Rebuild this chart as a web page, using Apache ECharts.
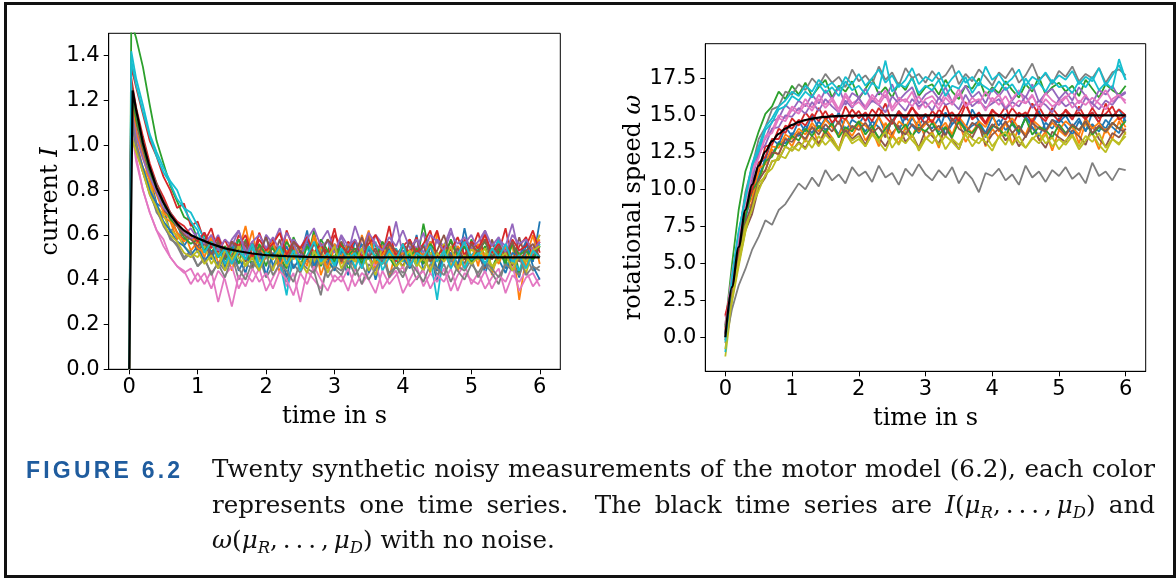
<!DOCTYPE html>
<html>
<head>
<meta charset="utf-8">
<script src="https://cdn.jsdelivr.net/npm/echarts@6/dist/echarts.min.js"></script>
<style>
html,body{margin:0;padding:0;background:#fff;}
#wrap{position:relative;width:1176px;height:581px;overflow:hidden;background:#fff;}
#chart{position:absolute;left:0;top:0;width:1176px;height:581px;}
#frame{position:absolute;left:4px;top:2px;width:1172px;height:576px;box-sizing:border-box;border:3px solid #111;pointer-events:none;}
#lab{position:absolute;left:26px;top:452px;font-family:"Liberation Sans",Arial,sans-serif;font-weight:bold;font-size:23px;line-height:37px;letter-spacing:3.2px;color:#1f5c9e;white-space:nowrap;}
#txt{position:absolute;left:212px;top:451px;width:943px;font-family:"DejaVu Serif",serif;font-size:24.6px;line-height:35.5px;color:#111;}
#txt .j{text-align:justify;text-align-last:justify;}
#txt sub{font-size:16.5px;line-height:0;vertical-align:-5px;}
</style>
</head>
<body>
<div id="wrap">
<div id="chart"></div>
<div id="frame"></div>
<div id="lab">FIGURE 6.2</div>
<div id="txt">
<div class="j">Twenty synthetic noisy measurements of the motor model (6.2), each color</div>
<div class="j">represents one time series.&nbsp; The black time series are <i>I</i>(<i>μ<sub>R</sub></i>,&thinsp;.&thinsp;.&thinsp;.&thinsp;,&thinsp;<i>μ<sub>D</sub></i>) and</div>
<div><i>ω</i>(<i>μ<sub>R</sub></i>,&thinsp;.&thinsp;.&thinsp;.&thinsp;,&thinsp;<i>μ<sub>D</sub></i>) with no noise.</div>
</div>
</div>
<script>
// ---------- tick labels ----------
const tickTime = [0, 1, 2, 3, 4, 5, 6];
const tickCurrent = [0, 0.2, 0.4, 0.6, 0.8, 1.0, 1.2, 1.4];
const tickSpeed = [0, 2.5, 5, 7.5, 10, 12.5, 15, 17.5];

// ---------- time samples ----------
const timeCurrent = [0,0.03,0.1,0.2,0.3,0.4,0.5,0.6,0.7,0.8,0.9,1.0,1.1,1.2,1.3,1.4,1.5,1.6,1.7,1.8,1.9,2.0,2.1,2.2,2.3,2.4,2.5,2.6,2.7,2.8,2.9,3.0,3.1,3.2,3.3,3.4,3.5,3.6,3.7,3.8,3.9,4.0,4.1,4.2,4.3,4.4,4.5,4.6,4.7,4.8,4.9,5.0,5.1,5.2,5.3,5.4,5.5,5.6,5.7,5.8,5.9,6.0];
const timeSpeed = [0,0.1,0.2,0.3,0.4,0.5,0.6,0.7,0.8,0.9,1.0,1.1,1.2,1.3,1.4,1.5,1.6,1.7,1.8,1.9,2.0,2.1,2.2,2.3,2.4,2.5,2.6,2.7,2.8,2.9,3.0,3.1,3.2,3.3,3.4,3.5,3.6,3.7,3.8,3.9,4.0,4.1,4.2,4.3,4.4,4.5,4.6,4.7,4.8,4.9,5.0,5.1,5.2,5.3,5.4,5.5,5.6,5.7,5.8,5.9,6.0];

// ---------- noise-free model (black) ----------
const timeCurrentModel = [0,0.05,0.1,0.2,0.3,0.4,0.5,0.6,0.7,0.8,0.9,1.0,1.2,1.4,1.6,1.8,2.0,2.3,2.6,3.0,6.0];
const currentModel = [0,1.245,1.16,1.01,0.9,0.81,0.745,0.69,0.65,0.62,0.6,0.585,0.56,0.54,0.527,0.517,0.51,0.505,0.502,0.5,0.5];
const timeSpeedModel = [0,0.1,0.2,0.3,0.4,0.5,0.6,0.7,0.8,0.9,1.0,1.1,1.2,1.3,1.4,1.5,1.6,1.7,1.8,1.9,2.0,2.5,3.0,6.0];
const speedModel = [0,3.4,6.1,8.6,10.3,11.6,12.55,13.25,13.75,14.1,14.35,14.55,14.68,14.78,14.85,14.9,14.93,14.95,14.97,14.98,14.99,15.0,15.0,15.0];

// ---------- noisy current measurements ----------
const cur01 = [0,1.18,1.06,0.95,0.86,0.74,0.72,0.61,0.66,0.55,0.6,0.52,0.58,0.49,0.56,0.45,0.57,0.5,0.43,0.55,0.48,0.6,0.46,0.53,0.41,0.55,0.5,0.62,0.44,0.52,0.47,0.56,0.5,0.42,0.58,0.47,0.54,0.4,0.51,0.57,0.45,0.53,0.48,0.6,0.44,0.52,0.39,0.55,0.5,0.46,0.63,0.49,0.54,0.43,0.51,0.58,0.45,0.5,0.41,0.56,0.48,0.66];
const cur02 = [0,1.15,1.02,0.9,0.85,0.72,0.68,0.66,0.58,0.62,0.53,0.57,0.5,0.6,0.47,0.53,0.44,0.56,0.51,0.62,0.45,0.5,0.55,0.43,0.58,0.49,0.53,0.46,0.6,0.42,0.51,0.56,0.47,0.54,0.44,0.6,0.5,0.45,0.57,0.41,0.53,0.49,0.58,0.46,0.52,0.43,0.61,0.48,0.55,0.44,0.5,0.57,0.46,0.62,0.42,0.53,0.49,0.56,0.31,0.5,0.6,0.47];
const cur03 = [0,1.55,1.48,1.35,1.18,1.02,0.92,0.82,0.75,0.68,0.66,0.58,0.6,0.52,0.57,0.49,0.55,0.47,0.58,0.5,0.54,0.46,0.56,0.5,0.45,0.59,0.52,0.48,0.62,0.46,0.53,0.5,0.57,0.44,0.52,0.49,0.6,0.47,0.54,0.5,0.45,0.56,0.51,0.47,0.65,0.5,0.44,0.55,0.49,0.53,0.46,0.58,0.5,0.55,0.45,0.52,0.48,0.57,0.43,0.53,0.49,0.55];
const cur04 = [0,1.35,1.26,1.14,1.02,0.95,0.86,0.8,0.72,0.74,0.64,0.66,0.57,0.63,0.52,0.58,0.5,0.6,0.55,0.49,0.61,0.53,0.58,0.47,0.62,0.54,0.5,0.59,0.46,0.56,0.52,0.63,0.49,0.57,0.53,0.46,0.6,0.55,0.51,0.64,0.48,0.56,0.52,0.59,0.47,0.55,0.62,0.5,0.54,0.46,0.58,0.53,0.61,0.49,0.56,0.52,0.63,0.47,0.55,0.59,0.5,0.57];
const cur05 = [0,1.2,1.07,0.96,0.88,0.8,0.75,0.7,0.66,0.6,0.63,0.58,0.61,0.55,0.6,0.52,0.58,0.62,0.53,0.57,0.5,0.6,0.56,0.63,0.51,0.58,0.54,0.6,0.49,0.57,0.62,0.53,0.59,0.52,0.64,0.55,0.5,0.6,0.56,0.53,0.66,0.51,0.57,0.54,0.61,0.49,0.58,0.55,0.63,0.52,0.56,0.6,0.53,0.62,0.5,0.58,0.55,0.65,0.51,0.57,0.54,0.6];
const cur06 = [0,1.22,1.1,0.98,0.87,0.8,0.71,0.68,0.61,0.58,0.6,0.53,0.56,0.5,0.58,0.47,0.54,0.51,0.57,0.45,0.55,0.52,0.49,0.58,0.46,0.53,0.5,0.56,0.43,0.55,0.51,0.48,0.57,0.5,0.54,0.45,0.59,0.52,0.48,0.55,0.5,0.46,0.53,0.58,0.49,0.55,0.44,0.52,0.57,0.5,0.47,0.56,0.51,0.45,0.58,0.5,0.54,0.46,0.59,0.49,0.53,0.5];
const cur07 = [0,1.12,0.95,0.8,0.7,0.62,0.58,0.5,0.46,0.44,0.38,0.43,0.38,0.44,0.3,0.42,0.46,0.36,0.43,0.39,0.45,0.35,0.41,0.47,0.37,0.43,0.3,0.44,0.4,0.36,0.46,0.39,0.42,0.35,0.45,0.38,0.43,0.48,0.36,0.41,0.44,0.34,0.4,0.46,0.37,0.43,0.39,0.45,0.35,0.42,0.47,0.38,0.43,0.36,0.41,0.45,0.34,0.42,0.39,0.44,0.37,0.41];
const cur08 = [0,1.1,0.98,0.88,0.8,0.7,0.66,0.58,0.56,0.5,0.53,0.46,0.5,0.42,0.48,0.44,0.51,0.4,0.47,0.45,0.5,0.41,0.46,0.49,0.39,0.47,0.43,0.5,0.44,0.33,0.48,0.45,0.42,0.49,0.46,0.38,0.47,0.44,0.51,0.41,0.46,0.43,0.48,0.4,0.45,0.5,0.42,0.47,0.39,0.46,0.44,0.49,0.41,0.47,0.43,0.38,0.48,0.45,0.42,0.5,0.44,0.46];
const cur09 = [0,1.06,0.98,0.9,0.82,0.73,0.69,0.62,0.6,0.55,0.52,0.5,0.55,0.47,0.52,0.44,0.53,0.5,0.46,0.56,0.48,0.51,0.44,0.53,0.49,0.57,0.45,0.51,0.48,0.55,0.43,0.5,0.52,0.47,0.54,0.46,0.5,0.42,0.55,0.49,0.51,0.45,0.53,0.48,0.44,0.52,0.5,0.56,0.46,0.51,0.45,0.54,0.49,0.52,0.44,0.5,0.55,0.47,0.51,0.43,0.53,0.6];
const cur10 = [0,1.42,1.3,1.18,1.05,0.97,0.9,0.84,0.8,0.72,0.7,0.64,0.58,0.51,0.55,0.47,0.53,0.58,0.49,0.54,0.45,0.52,0.56,0.48,0.33,0.53,0.49,0.55,0.46,0.52,0.58,0.47,0.51,0.55,0.45,0.53,0.49,0.57,0.44,0.5,0.54,0.48,0.52,0.46,0.56,0.5,0.31,0.53,0.48,0.55,0.45,0.51,0.54,0.47,0.52,0.58,0.46,0.5,0.44,0.53,0.49,0.56];
const cur11 = [0,1.13,1.0,0.9,0.8,0.74,0.66,0.62,0.57,0.55,0.51,0.55,0.48,0.53,0.45,0.51,0.56,0.44,0.5,0.47,0.54,0.42,0.52,0.48,0.55,0.45,0.5,0.58,0.46,0.51,0.49,0.44,0.53,0.47,0.5,0.56,0.43,0.51,0.48,0.54,0.46,0.5,0.45,0.53,0.49,0.57,0.44,0.5,0.52,0.47,0.55,0.48,0.51,0.46,0.54,0.49,0.43,0.52,0.5,0.57,0.46,0.4];
const cur12 = [0,1.2,1.06,0.95,0.84,0.78,0.7,0.67,0.61,0.57,0.6,0.54,0.52,0.58,0.5,0.55,0.47,0.53,0.64,0.49,0.54,0.51,0.57,0.46,0.53,0.5,0.55,0.48,0.6,0.52,0.45,0.54,0.5,0.56,0.48,0.53,0.62,0.47,0.51,0.55,0.49,0.52,0.46,0.54,0.5,0.57,0.48,0.53,0.45,0.55,0.51,0.49,0.56,0.5,0.53,0.47,0.55,0.49,0.52,0.46,0.54,0.58];
const cur13 = [0,1.25,1.12,1.0,0.88,0.79,0.74,0.67,0.64,0.59,0.56,0.58,0.53,0.57,0.5,0.55,0.49,0.58,0.52,0.47,0.56,0.51,0.54,0.49,0.57,0.52,0.46,0.55,0.5,0.58,0.53,0.48,0.56,0.51,0.54,0.47,0.55,0.5,0.57,0.52,0.49,0.55,0.5,0.54,0.47,0.56,0.52,0.49,0.58,0.51,0.55,0.48,0.53,0.57,0.5,0.54,0.47,0.56,0.51,0.53,0.49,0.55];
const cur14 = [0,1.3,1.17,1.04,0.92,0.83,0.77,0.7,0.66,0.64,0.6,0.57,0.61,0.54,0.59,0.52,0.57,0.55,0.6,0.5,0.58,0.53,0.56,0.61,0.51,0.57,0.54,0.59,0.52,0.56,0.49,0.6,0.55,0.52,0.58,0.5,0.56,0.6,0.53,0.57,0.51,0.55,0.58,0.52,0.56,0.62,0.5,0.55,0.53,0.59,0.51,0.57,0.54,0.6,0.52,0.56,0.5,0.58,0.53,0.55,0.62,0.52];
const cur15 = [0,1.16,1.04,0.94,0.86,0.79,0.72,0.69,0.64,0.62,0.58,0.61,0.56,0.6,0.53,0.58,0.55,0.62,0.51,0.57,0.6,0.54,0.59,0.53,0.61,0.56,0.5,0.58,0.63,0.55,0.57,0.52,0.6,0.55,0.58,0.52,0.61,0.56,0.53,0.59,0.55,0.62,0.54,0.58,0.52,0.6,0.57,0.53,0.61,0.56,0.59,0.54,0.57,0.62,0.55,0.59,0.52,0.6,0.56,0.58,0.53,0.57];
const cur16 = [0,1.28,1.15,1.02,0.9,0.83,0.75,0.7,0.64,0.6,0.58,0.55,0.58,0.51,0.56,0.5,0.57,0.53,0.48,0.56,0.52,0.59,0.5,0.55,0.47,0.57,0.53,0.49,0.56,0.51,0.58,0.54,0.48,0.55,0.52,0.59,0.5,0.54,0.47,0.56,0.53,0.5,0.57,0.51,0.55,0.48,0.53,0.6,0.5,0.54,0.49,0.56,0.52,0.58,0.49,0.55,0.51,0.57,0.48,0.53,0.56,0.5];
const cur17 = [0,1.08,0.93,0.8,0.7,0.62,0.55,0.5,0.46,0.43,0.45,0.39,0.43,0.36,0.44,0.4,0.28,0.42,0.37,0.45,0.39,0.43,0.36,0.44,0.4,0.33,0.43,0.38,0.46,0.4,0.35,0.42,0.39,0.45,0.37,0.43,0.4,0.34,0.44,0.38,0.42,0.46,0.37,0.41,0.44,0.36,0.42,0.39,0.45,0.35,0.43,0.4,0.38,0.44,0.36,0.42,0.39,0.46,0.35,0.41,0.43,0.37];
const cur18 = [0,1.14,1.0,0.88,0.78,0.71,0.64,0.59,0.55,0.49,0.52,0.46,0.49,0.43,0.47,0.41,0.5,0.45,0.4,0.48,0.44,0.51,0.42,0.47,0.44,0.39,0.48,0.45,0.43,0.5,0.41,0.46,0.44,0.49,0.42,0.47,0.4,0.45,0.5,0.43,0.46,0.41,0.48,0.44,0.39,0.47,0.45,0.42,0.49,0.44,0.4,0.47,0.43,0.48,0.45,0.41,0.47,0.44,0.5,0.42,0.46,0.44];
const cur19 = [0,1.04,0.97,0.88,0.78,0.72,0.65,0.6,0.57,0.52,0.5,0.53,0.47,0.51,0.45,0.53,0.49,0.55,0.46,0.5,0.44,0.52,0.49,0.54,0.46,0.51,0.48,0.43,0.53,0.47,0.5,0.55,0.45,0.51,0.48,0.54,0.44,0.5,0.47,0.52,0.46,0.49,0.53,0.46,0.5,0.44,0.52,0.48,0.55,0.45,0.51,0.47,0.5,0.54,0.46,0.49,0.52,0.44,0.51,0.48,0.53,0.55];
const cur20 = [0,1.38,1.27,1.15,1.04,0.95,0.88,0.83,0.76,0.72,0.66,0.62,0.52,0.57,0.5,0.54,0.47,0.53,0.49,0.56,0.46,0.52,0.5,0.55,0.47,0.53,0.44,0.51,0.57,0.48,0.52,0.46,0.54,0.49,0.52,0.45,0.55,0.5,0.47,0.53,0.49,0.56,0.46,0.52,0.5,0.55,0.48,0.53,0.45,0.51,0.57,0.49,0.52,0.47,0.54,0.5,0.56,0.48,0.51,0.45,0.53,0.5];

// ---------- noisy rotational speed measurements ----------
const spd01 = [0.3,3.6,5.5,8.9,9.7,11.8,12.0,13.4,13.0,14.2,13.6,14.6,13.9,15.0,14.1,14.8,14.3,15.2,13.9,14.7,14.4,15.1,14.2,14.9,13.8,14.6,15.3,14.0,14.8,14.3,15.0,14.5,13.9,15.2,14.4,14.8,14.1,15.4,14.6,13.8,14.9,14.3,15.1,14.6,13.7,14.9,14.4,15.3,14.0,14.7,14.5,15.0,14.2,14.8,13.9,15.2,14.5,14.1,14.9,15.4,14.6];
const spd02 = [0.6,3.5,5.2,8.4,9.1,11.2,11.2,12.7,12.3,13.5,12.9,13.9,13.2,14.3,13.0,14.1,13.5,12.7,14.2,13.6,14.4,13.3,14.0,12.9,14.5,13.7,13.1,14.2,13.5,14.7,13.4,13.9,12.8,14.3,13.6,14.6,13.2,13.9,14.4,12.9,14.1,13.5,14.6,13.0,14.2,13.7,14.8,13.3,13.9,12.6,14.0,13.6,14.3,13.1,14.5,13.8,12.7,14.1,13.4,14.6,13.7];
const spd03 = [0.8,4.9,8.6,11.2,12.5,13.9,15.1,15.6,16.6,16.1,17.0,16.4,17.2,16.3,16.9,17.4,16.2,17.0,16.6,17.3,16.1,16.8,17.5,16.4,16.9,16.2,17.2,16.7,17.6,16.3,16.9,17.1,16.4,17.4,16.6,16.1,17.0,16.8,17.5,16.3,16.9,16.5,17.3,16.7,16.2,17.1,16.6,17.6,16.4,16.9,17.2,16.6,17.0,16.3,17.4,16.8,16.2,17.1,16.7,16.4,17.0];
const spd04 = [1.4,3.0,6.4,8.1,10.6,11.2,12.9,13.0,14.1,13.8,14.8,14.3,15.2,14.6,15.5,14.7,15.1,14.4,15.6,14.8,15.3,14.6,15.4,14.9,15.8,14.5,15.2,14.7,15.5,15.0,14.4,15.3,14.8,15.7,14.6,15.1,15.9,14.7,15.2,14.5,15.4,14.9,15.6,14.3,15.2,14.8,15.8,15.0,14.6,15.5,14.9,15.3,14.7,15.6,14.8,15.2,14.5,15.8,14.9,15.4,15.0];
const spd05 = [0.2,3.9,6.4,9.6,11.0,12.9,13.4,14.6,14.8,15.7,15.3,16.0,15.6,16.4,15.8,16.7,16.1,16.9,15.7,16.5,16.2,16.8,15.9,16.6,16.2,17.1,16.0,16.5,16.9,15.8,16.4,16.7,16.1,16.9,15.9,16.4,17.0,16.2,16.6,15.8,16.8,16.3,16.9,16.0,16.6,16.2,17.1,15.9,16.5,16.8,16.1,16.6,16.0,16.9,16.3,15.8,16.7,16.4,17.0,16.2,16.5];
const spd06 = [-0.2,2.6,5.0,7.2,8.3,10.1,10.8,11.9,12.0,12.9,12.6,13.2,12.8,13.6,13.1,13.9,13.3,12.7,14.0,13.4,13.8,13.0,14.1,13.5,12.9,13.8,14.3,13.2,13.7,12.8,14.0,13.6,13.1,14.2,13.4,12.7,13.9,13.5,14.4,13.0,13.7,14.1,13.3,13.8,12.9,13.6,14.2,13.4,12.8,13.9,13.5,13.2,14.0,13.6,13.0,14.3,13.4,12.9,13.8,13.5,14.1];
const spd07 = [0.9,4.3,7.0,9.4,11.3,12.3,13.6,14.0,15.0,14.8,15.6,15.3,16.1,15.5,16.4,15.7,16.2,15.4,16.5,15.8,16.1,15.6,16.4,15.9,16.7,15.5,16.2,15.9,16.6,15.4,16.1,16.3,15.7,16.5,15.9,16.8,15.6,16.2,15.8,16.6,15.9,16.4,15.5,16.1,16.7,15.8,16.3,15.6,16.5,16.0,15.7,16.2,16.6,15.8,16.4,15.5,16.1,16.7,15.9,16.3,16.0];
const spd08 = [0.4,3.8,6.8,9.8,11.5,13.4,14.2,15.4,15.6,16.6,16.4,17.1,16.7,17.5,17.0,17.8,17.2,17.6,16.9,18.1,17.3,17.7,17.1,18.3,17.4,17.9,17.0,18.2,17.5,17.8,17.2,18.0,17.4,17.7,18.4,17.1,17.8,17.3,18.1,17.6,17.0,17.9,17.5,18.2,17.2,17.7,18.5,17.4,17.8,17.1,18.0,17.6,18.3,17.3,17.8,17.5,18.2,17.2,17.9,18.1,17.7];
const spd09 = [-1.3,2.4,4.8,7.1,8.9,9.9,11.0,11.4,12.3,12.1,12.9,12.6,13.4,12.8,13.6,13.0,13.5,12.7,13.8,13.1,13.4,12.9,13.7,13.2,12.6,13.6,13.0,13.9,13.3,12.8,13.5,13.1,13.8,12.7,13.4,13.0,13.7,12.9,13.5,13.2,12.6,13.6,13.0,13.9,13.2,12.8,13.5,13.1,13.7,12.9,13.4,13.0,13.6,12.7,13.3,13.8,13.0,12.5,13.4,13.1,13.6];
const spd10 = [-1.0,3.9,7.0,9.5,11.7,12.9,14.2,14.8,15.6,16.0,16.6,16.3,17.0,16.6,17.4,16.9,17.2,16.7,17.6,17.1,17.8,17.0,17.5,18.1,17.2,17.7,16.9,17.4,18.2,17.1,17.6,17.3,17.9,16.9,17.5,18.0,17.2,17.6,17.0,18.3,17.4,17.8,17.1,17.5,18.1,17.0,17.6,17.3,17.9,17.2,17.7,17.4,18.0,17.1,17.6,17.3,18.2,17.0,17.7,18.4,17.4];
const spd11 = [0.0,3.0,6.1,7.9,10.0,10.8,12.1,12.3,13.2,13.1,13.8,13.6,14.3,13.8,14.6,14.0,14.4,13.7,14.8,14.1,14.5,13.9,14.6,14.2,13.6,14.7,14.0,14.9,14.3,13.8,14.5,14.1,14.8,13.7,14.4,14.9,13.9,14.3,14.6,13.5,14.2,14.7,14.0,14.4,13.8,14.9,14.2,13.6,14.5,14.1,14.8,14.3,13.7,14.6,14.0,14.4,13.9,14.7,14.2,13.8,15.0];
const spd12 = [0.5,3.4,5.6,8.6,9.4,11.4,11.7,12.9,12.8,13.7,13.4,14.1,13.7,14.5,13.9,14.7,14.2,13.6,14.8,14.0,14.6,14.3,13.8,14.9,14.1,13.5,14.6,14.2,15.0,13.9,14.4,14.7,14.0,14.5,13.7,14.9,14.3,13.8,14.6,14.2,15.1,13.9,14.4,14.8,14.1,13.6,14.7,14.3,13.9,14.5,14.0,14.6,14.2,13.7,14.8,14.1,14.5,13.8,14.4,14.9,14.2];
const spd13 = [0.7,3.7,5.4,8.2,9.9,10.6,11.9,12.2,13.1,12.9,13.6,13.3,14.1,13.6,14.3,13.8,14.5,13.5,14.2,13.9,14.6,13.7,14.3,13.4,14.1,14.7,13.8,14.4,13.6,14.2,13.9,14.5,13.7,14.2,13.5,14.6,14.0,13.8,14.4,13.6,14.3,14.1,13.6,14.5,13.9,14.8,13.7,14.2,14.0,13.5,14.4,13.8,14.3,14.0,14.6,13.7,14.2,13.9,14.5,14.1,14.6];
const spd14 = [1.5,3.3,6.0,8.8,9.9,11.8,12.2,13.4,13.4,14.3,14.1,14.7,14.3,15.1,14.6,15.3,14.5,15.0,14.7,15.4,14.8,15.2,14.6,15.5,14.9,14.4,15.3,14.8,15.6,14.7,15.1,14.5,15.4,14.9,15.2,14.6,15.7,14.8,15.0,14.4,15.3,15.0,14.7,15.5,14.9,15.2,14.5,15.6,14.8,15.1,14.6,15.4,14.9,15.2,14.7,15.5,14.8,15.1,15.6,14.7,15.0];
const spd15 = [0.3,3.8,6.6,9.2,10.6,12.5,13.0,14.1,14.2,15.0,14.9,15.5,15.1,15.9,15.3,16.1,15.6,15.2,16.0,15.5,16.2,15.4,16.0,15.7,15.2,16.3,15.8,15.3,16.1,15.6,15.9,15.3,16.2,15.7,15.9,15.4,16.4,15.6,16.0,15.5,15.8,16.1,15.4,15.9,15.6,16.3,15.5,16.0,15.7,15.2,16.1,15.6,15.9,15.3,16.2,15.8,15.4,16.0,15.7,16.3,16.6];
const spd16 = [0.2,2.8,5.4,7.7,9.0,10.6,11.3,12.5,12.4,13.4,13.2,13.8,13.4,14.2,13.7,14.4,13.9,14.6,13.6,14.3,14.0,14.5,13.8,14.2,13.5,14.7,14.1,13.7,14.4,14.0,14.6,13.9,14.3,13.6,14.8,14.1,13.8,14.5,14.2,13.7,14.4,14.0,14.6,13.8,14.3,13.5,14.5,14.1,13.9,14.7,14.2,13.7,14.4,14.0,14.6,13.8,14.3,13.9,14.5,14.1,13.8];
const spd17 = [0.6,4.0,6.9,9.0,11.2,12.1,13.5,13.8,14.8,14.6,15.4,15.1,15.8,15.3,16.1,15.5,16.0,15.2,16.3,15.6,15.9,15.4,16.2,15.7,16.4,15.3,15.9,16.1,15.6,16.3,15.5,16.0,15.4,16.2,15.7,16.5,15.6,15.9,16.1,15.3,16.2,15.7,16.3,15.5,16.0,15.8,16.4,15.4,16.1,15.6,15.9,16.3,15.5,16.0,15.7,16.2,15.8,15.4,16.1,16.4,15.8];
const spd18 = [-0.4,1.9,3.5,4.6,5.9,6.8,7.9,7.6,8.6,9.0,9.7,10.4,10.0,10.8,10.2,11.3,10.6,11.0,10.4,11.5,10.9,11.2,10.5,11.6,10.8,11.1,10.3,11.4,10.9,11.7,11.0,10.6,11.3,10.8,11.5,10.4,11.2,10.7,9.8,11.1,10.9,11.4,10.6,11.0,10.3,11.6,10.8,11.2,10.5,11.3,10.9,11.5,10.7,11.1,10.4,11.8,10.9,11.2,10.6,11.4,11.3];
const spd19 = [-0.8,2.6,5.2,7.5,8.6,10.4,10.9,11.9,12.0,12.9,12.6,13.1,12.7,13.5,12.9,13.7,13.2,12.6,13.8,13.3,13.6,12.9,13.8,13.3,13.9,12.8,13.5,13.1,13.7,12.6,13.4,13.8,13.0,13.6,13.2,12.7,13.9,13.4,13.1,13.7,12.9,13.5,13.9,13.0,13.6,12.8,13.4,13.8,13.1,13.5,12.7,13.3,13.7,12.9,13.6,13.2,13.8,12.8,13.4,13.0,13.9];
const spd20 = [-0.3,4.1,7.2,9.3,11.6,12.6,14.0,14.5,15.4,15.6,16.3,16.0,16.6,16.2,17.1,16.5,16.9,16.3,17.3,16.7,17.0,16.4,17.2,16.8,18.7,16.6,17.1,16.9,17.5,16.5,17.0,16.7,17.4,16.3,17.0,16.8,17.6,16.5,17.2,16.9,16.6,17.3,16.7,17.1,16.4,17.5,16.8,17.2,16.6,17.4,16.9,17.0,16.5,17.3,16.9,17.6,16.7,17.2,16.8,18.8,17.4];

const currentRuns = [cur01,cur02,cur03,cur04,cur05,cur06,cur07,cur08,cur09,cur10,cur11,cur12,cur13,cur14,cur15,cur16,cur17,cur18,cur19,cur20];
const speedRuns = [spd01,spd02,spd03,spd04,spd05,spd06,spd07,spd08,spd09,spd10,spd11,spd12,spd13,spd14,spd15,spd16,spd17,spd18,spd19,spd20];

const palette = ['#1f77b4','#ff7f0e','#2ca02c','#d62728','#9467bd','#8c564b','#e377c2','#7f7f7f','#bcbd22','#17becf'];

function pairs(ts, vs){ return ts.map((t,k)=>[t, vs[k]]); }

const chart = echarts.init(document.getElementById('chart'), null, {renderer:'canvas'});

const axisCol = '#000';
const tickFont = {fontFamily:'DejaVu Sans', fontSize:21, color:'#000'};
const nameFont = {fontFamily:'DejaVu Serif', fontSize:24, color:'#000'};

function xAx(gi){
  return {
    gridIndex: gi, type:'value', min:-0.3, max:6.3,
    name:'time in s', nameLocation:'middle', nameGap:35,
    nameTextStyle: nameFont,
    axisLine:{show:true, onZero:false, lineStyle:{color:axisCol, width:1}},
    axisTick:{show:true, length:5, customValues: tickTime, lineStyle:{color:axisCol, width:1}},
    axisLabel:Object.assign({customValues: tickTime, margin:8, formatter:v=>String(Math.round(v))}, tickFont),
    splitLine:{show:false}
  };
}

const series = [];
currentRuns.forEach((vals,i)=>{
  series.push({type:'line', xAxisIndex:0, yAxisIndex:0, data:pairs(timeCurrent, vals),
    showSymbol:false, symbol:'none', lineStyle:{width:1.8, color:palette[i%10]}, itemStyle:{color:palette[i%10]}, z:2});
});
series.push({type:'line', xAxisIndex:0, yAxisIndex:0, data:pairs(timeCurrentModel, currentModel),
  showSymbol:false, symbol:'none', lineStyle:{width:2.2, color:'#000'}, z:3});
speedRuns.forEach((vals,i)=>{
  series.push({type:'line', xAxisIndex:1, yAxisIndex:1, data:pairs(timeSpeed, vals),
    showSymbol:false, symbol:'none', lineStyle:{width:1.8, color:palette[i%10]}, itemStyle:{color:palette[i%10]}, z:2});
});
series.push({type:'line', xAxisIndex:1, yAxisIndex:1, data:pairs(timeSpeedModel, speedModel),
  showSymbol:false, symbol:'none', smooth:0.3, smoothMonotone:'x', lineStyle:{width:2.2, color:'#000'}, z:3});

chart.setOption({
  animation:false,
  backgroundColor:'transparent',
  grid:[
    {left:108.7, top:33.3, width:451.6, height:336, show:true, borderColor:'#000', borderWidth:1, backgroundColor:'transparent'},
    {left:705.3, top:43.7, width:440.4, height:327.6, show:true, borderColor:'#000', borderWidth:1, backgroundColor:'transparent'}
  ],
  xAxis:[xAx(0), xAx(1)],
  yAxis:[
    {gridIndex:0, type:'value', min:0, max:1.5,
     name:'{n|current }{i|I}', nameLocation:'middle', nameGap:44, nameRotate:90,
     nameTextStyle:Object.assign({rich:{n:{fontFamily:'DejaVu Serif', fontSize:24, color:'#000'}, i:{fontFamily:'DejaVu Serif', fontStyle:'italic', fontSize:24, color:'#000'}}}, nameFont),
     axisLine:{show:true, onZero:false, lineStyle:{color:axisCol, width:1}},
     axisTick:{show:true, length:5, customValues: tickCurrent, lineStyle:{color:axisCol, width:1}},
     axisLabel:Object.assign({customValues: tickCurrent, margin:9, formatter:v=>v.toFixed(1)}, tickFont),
     splitLine:{show:false}},
    {gridIndex:1, type:'value', min:-2.3, max:19.84,
     name:'{n|rotational speed }{i|ω}', nameLocation:'middle', nameGap:60, nameRotate:90,
     nameTextStyle:Object.assign({rich:{n:{fontFamily:'DejaVu Serif', fontSize:24, color:'#000'}, i:{fontFamily:'DejaVu Serif', fontStyle:'italic', fontSize:24, color:'#000'}}}, nameFont),
     axisLine:{show:true, onZero:false, lineStyle:{color:axisCol, width:1}},
     axisTick:{show:true, length:5, customValues: tickSpeed, lineStyle:{color:axisCol, width:1}},
     axisLabel:Object.assign({customValues: tickSpeed, margin:9, formatter:v=>v.toFixed(1)}, tickFont),
     splitLine:{show:false}},
  ],
  series: series
});
</script>
</body>
</html>
